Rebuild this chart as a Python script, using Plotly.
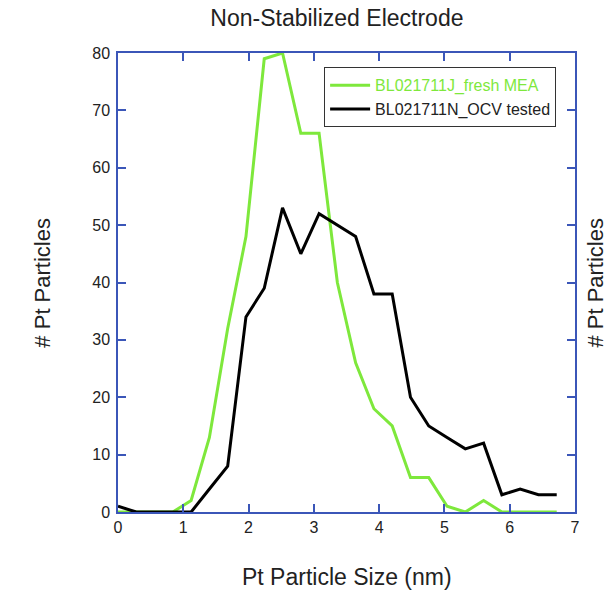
import plotly.graph_objects as go

# Particle-size bins (nm) and counts per bin
size_nm = [round(0.28 * i, 2) for i in range(25)]
fresh_counts = [0, 0, 0, 0, 2, 13, 32, 48, 79, 80, 66, 66, 40, 26, 18, 15,
                6, 6, 1, 0, 2, 0, 0, 0, 0]
ocv_counts = [1, 0, 0, 0, 0, 4, 8, 34, 39, 53, 45, 52, 50, 48, 38, 38,
              20, 15, 13, 11, 12, 3, 4, 3, 3]

x_ticks = [0, 1, 2, 3, 4, 5, 6, 7]
y_ticks = [0, 10, 20, 30, 40, 50, 60, 70, 80]

GREEN = "#7ee83c"
AXIS_BLUE = "#3b56b8"
FONT = "Liberation Sans, Arial, sans-serif"

fig = go.Figure()
fig.add_trace(go.Scatter(
    x=size_nm, y=fresh_counts, mode="lines",
    line=dict(color=GREEN, width=3),
    name=f"<span style='color:{GREEN}'>BL021711J_fresh MEA</span>",
))
fig.add_trace(go.Scatter(
    x=size_nm, y=ocv_counts, mode="lines",
    line=dict(color="black", width=3),
    name="BL021711N_OCV tested",
))

axis_common = dict(
    showline=True, linecolor=AXIS_BLUE, linewidth=1.5, mirror="allticks",
    ticks="inside", ticklen=8, tickcolor=AXIS_BLUE, tickwidth=1.5,
    showgrid=False, zeroline=False,
    tickfont=dict(family=FONT, size=16, color="#222"),
)

fig.update_layout(
    width=607, height=593,
    margin=dict(l=118, r=32, t=53, b=81),
    paper_bgcolor="white", plot_bgcolor="white",
    font=dict(family=FONT, color="#222"),
    title=dict(text="Non-Stabilized Electrode", xref="paper", x=0.479,
               xanchor="center", yref="container", y=0.97, yanchor="middle",
               font=dict(family=FONT, size=23, color="#222")),
    xaxis=dict(range=[0, 7], tickvals=x_ticks, **axis_common),
    yaxis=dict(range=[0, 80], tickvals=y_ticks, ticklabelstandoff=3,
               **axis_common),
    legend=dict(
        x=0.451, y=0.969, xanchor="left", yanchor="top",
        bgcolor="white", bordercolor="#333", borderwidth=1,
        font=dict(family=FONT, size=16, color="#222"),
        tracegroupgap=0, itemwidth=40,
    ),
    showlegend=True,
)

# Axis titles
fig.add_annotation(text="Pt Particle Size (nm)", xref="paper", yref="paper",
                   x=0.5, y=-0.142, xanchor="center", yanchor="middle",
                   showarrow=False, font=dict(family=FONT, size=23, color="#222"))
for xpos in (-0.166, 1.044):
    fig.add_annotation(text="# Pt Particles", xref="paper", yref="paper",
                       x=xpos, y=0.5, xanchor="center", yanchor="middle",
                       textangle=-90, showarrow=False,
                       font=dict(family=FONT, size=22, color="#222"))

fig.write_html("out.html")
